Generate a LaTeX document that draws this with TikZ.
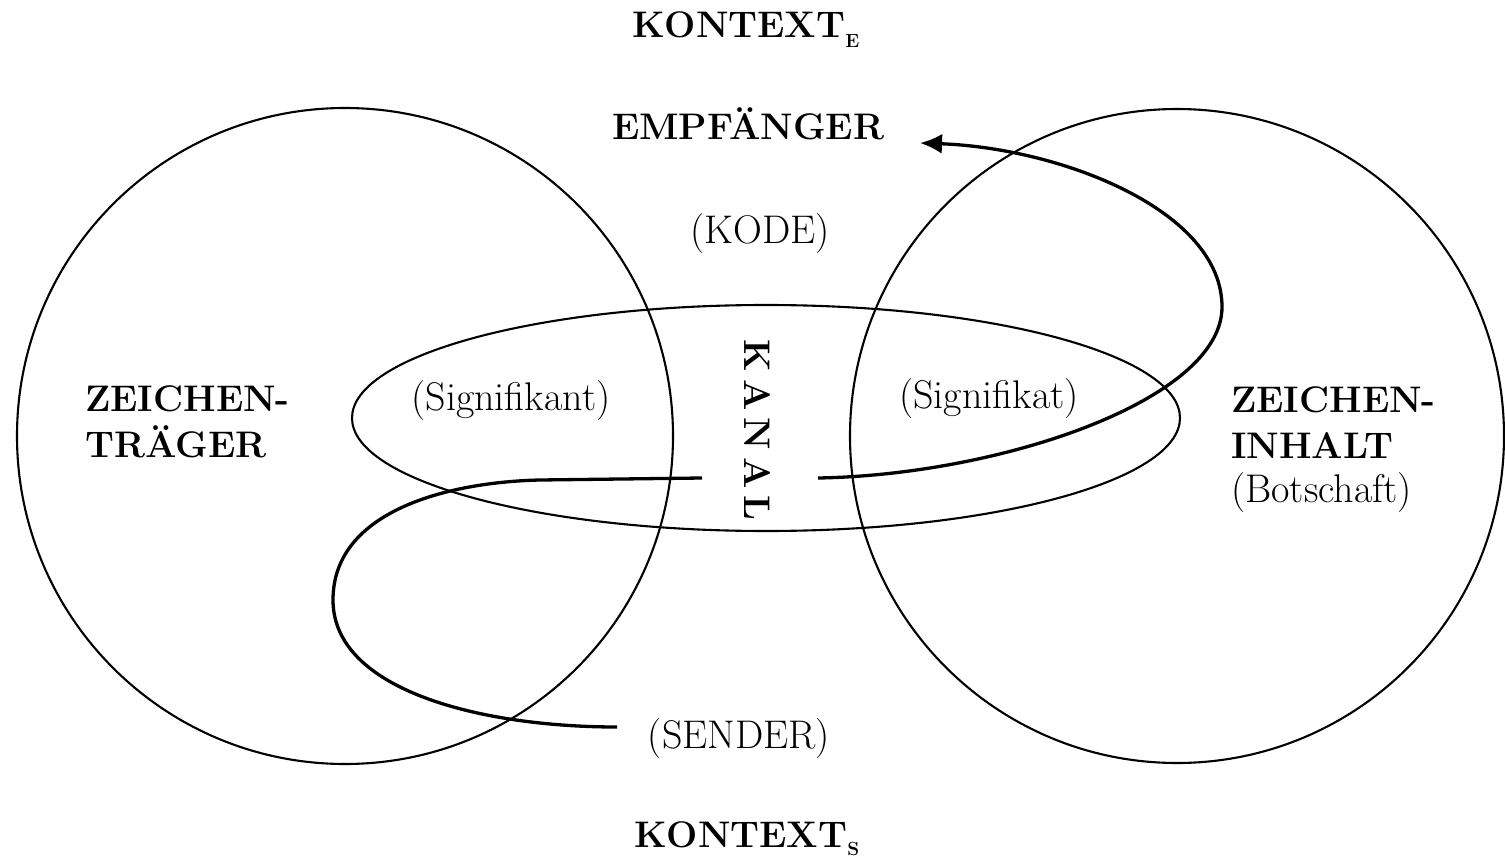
\documentclass[tikz,border=0pt]{standalone}
\usetikzlibrary{arrows.meta}
\tikzset{
  thinline/.style={line width=2.1pt},
  flow/.style={line width=3.3pt},
  bold/.style={font=\fontsize{37}{44}\selectfont\bfseries, inner sep=0pt},
  reg/.style={font=\fontsize{40}{47}\selectfont, inner sep=0pt},
}
\begin{document}
\begin{tikzpicture}[x=1pt,y=-1pt]
\useasboundingbox (0,0) rectangle (1505,856);
% shapes
\draw[thinline] (345,436) circle (328pt);
\draw[thinline] (1177,436) circle (327pt);
\draw[thinline] (766,418) ellipse [x radius=414pt, y radius=113pt];
% texts
\node[bold, anchor=base west] (ke) at (632,38) {KONTEXT\raisebox{-10pt}{\fontsize{19}{19}\selectfont E}};
\node[bold, anchor=base west] (emp) at (612,140) {EMPF\"ANGER};
\node[reg, anchor=base] (kode) at (760,243) {(KODE)};
\node[reg, anchor=base] (sgnt) at (511,410) {(Signifikant)};
\node[reg, anchor=base] (sgnf) at (989,408) {(Signifikat)};
\node[bold, anchor=base west] (zt1) at (85,411) {ZEICHEN-};
\node[bold, anchor=base west] (zt2) at (85,457) {TR\"AGER};
\node[bold, anchor=base west] (zi1) at (1231,412) {ZEICHEN-};
\node[bold, anchor=base west] (zi2) at (1231,458) {INHALT};
\node[reg, anchor=base west] (bot) at (1231,502) {(Botschaft)};
\node[reg, anchor=base] (sender) at (739,748) {(SENDER)};
\node[bold, anchor=base west] (ks) at (634,847) {KONTEXT\raisebox{-8pt}{\fontsize{19}{19}\selectfont S}};
\node[bold, rotate=-90] (kanal) at (757,430) {K\hspace{7pt}A\hspace{7pt}N\hspace{7pt}A\hspace{7pt}L};
% connectors
\coordinate (s0) at (617,727);
\coordinate (s1) at (702,478);
\coordinate (r0) at (818,478);
\coordinate (r1) at (920,143);
\draw[flow] (s0) .. controls (480,727) and (333,690) .. (333,600)
  .. controls (333,510) and (450,482) .. (540,480) -- (s1);
\draw[flow, -{Latex[length=22pt,width=20pt]}] (r0) .. controls (1000,475) and (1222,400) .. (1222,307)
  .. controls (1222,210) and (1060,148) .. (r1);
\end{tikzpicture}
\end{document}
